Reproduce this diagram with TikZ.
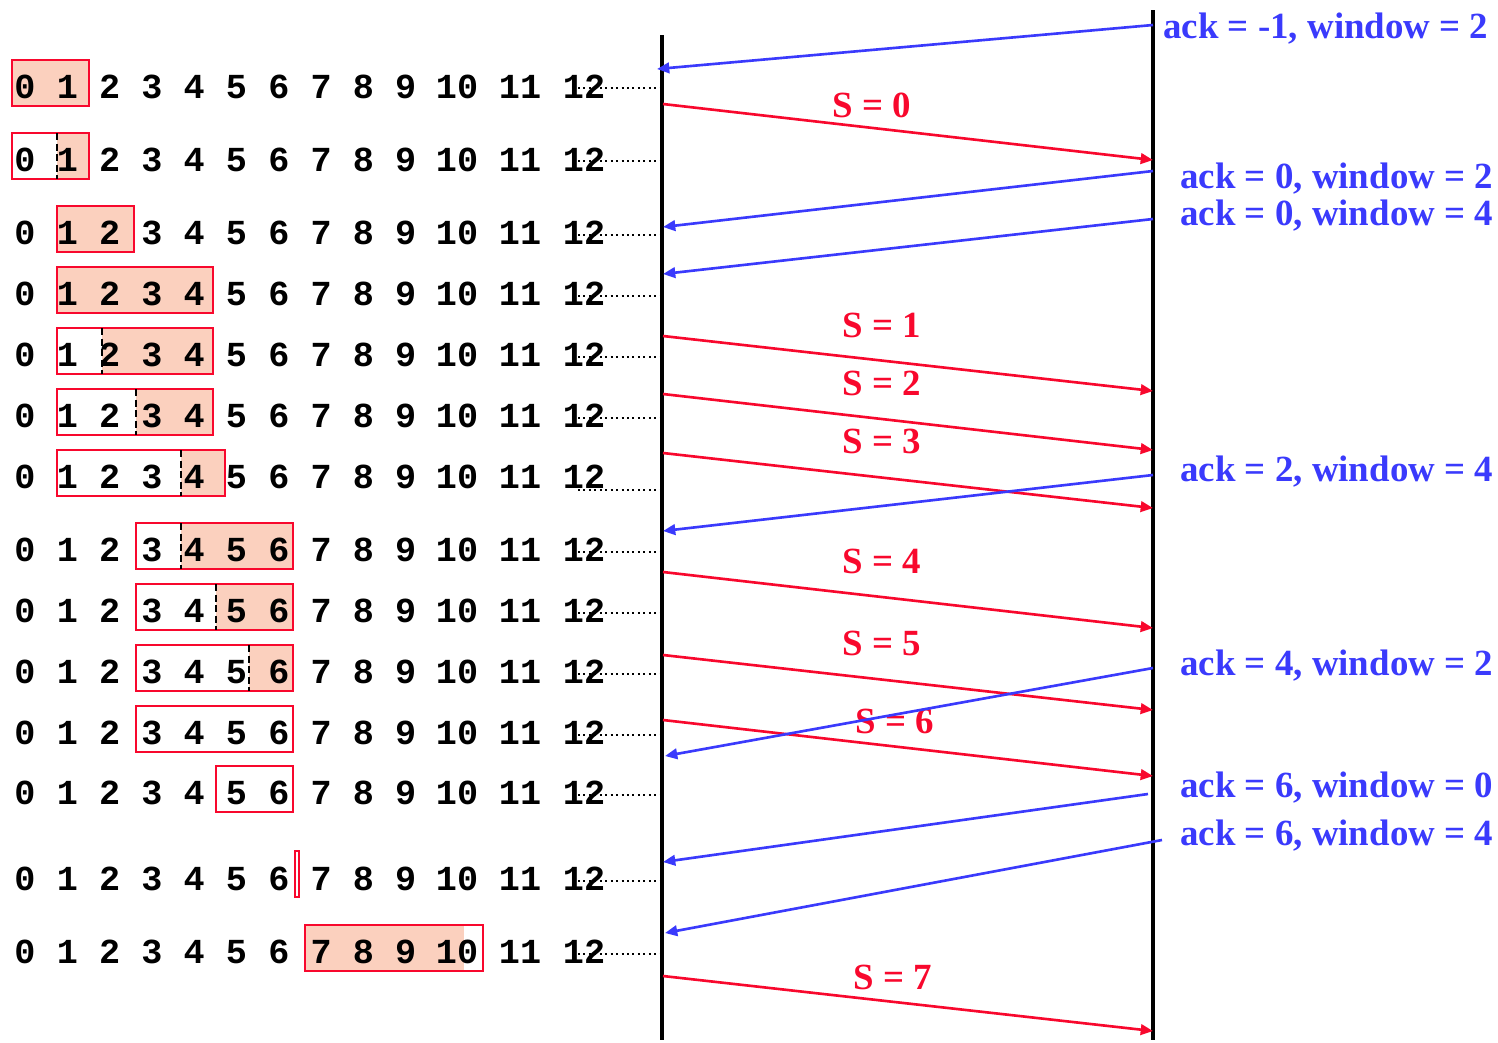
\documentclass[tikz,border=0pt]{standalone}
\usepackage{fontspec}
\setmainfont{Liberation Serif}
\newfontfamily\seqfont{Liberation Mono}
\usepackage{xcolor}
\usepackage{tikz}
\usetikzlibrary{arrows.meta}

\definecolor{segred}{RGB}{248,8,45}
\definecolor{ackblue}{RGB}{58,58,252}
\definecolor{winfill}{RGB}{251,208,190}

\tikzset{
  seqnum/.style={inner sep=0pt, font=\seqfont\bfseries\fontsize{20}{20}\selectfont},
  win/.style={draw=segred, line width=1.5pt},
  sent/.style={fill=winfill},
  divider/.style={dashed, dash pattern=on 4pt off 2pt, line width=1.3pt},
  leader/.style={dotted, line width=1.1pt},
  timeline/.style={line width=1.8pt},
  seg/.style={segred, line width=1.5pt, -{Triangle[length=7pt,width=6pt]}},
  ack/.style={ackblue, line width=1.5pt, -{Triangle[length=7pt,width=6pt]}},
  seglabel/.style={text=segred, anchor=base, inner sep=0pt, font=\bfseries\fontsize{21}{21}\selectfont},
  acklabel/.style={text=ackblue, anchor=base west, inner sep=0pt, font=\bfseries\fontsize{21}{21}\selectfont}
}

\begin{document}
\begin{tikzpicture}[x=0.02cm,y=-0.02cm]
\useasboundingbox (0,0) rectangle (1498,1042);

\fill[sent] (12,60) rectangle (89,106);
\draw[win] (12,60) rectangle (89,106);

\fill[sent] (57,133) rectangle (89,179);
\draw[win] (12,133) rectangle (89,179);
\draw[divider] (57,133)--(57,179);

\fill[sent] (57,206) rectangle (134,252);
\draw[win] (57,206) rectangle (134,252);

\fill[sent] (57,267) rectangle (213,313);
\draw[win] (57,267) rectangle (213,313);

\fill[sent] (102,328) rectangle (213,374);
\draw[win] (57,328) rectangle (213,374);
\draw[divider] (102,328)--(102,374);

\fill[sent] (136,389) rectangle (213,435);
\draw[win] (57,389) rectangle (213,435);
\draw[divider] (136,389)--(136,435);

\fill[sent] (181,450) rectangle (225,496);
\draw[win] (57,450) rectangle (225,496);
\draw[divider] (181,450)--(181,496);

\fill[sent] (181,523) rectangle (293,569);
\draw[win] (136,523) rectangle (293,569);
\draw[divider] (181,523)--(181,569);

\fill[sent] (216,584) rectangle (293,630);
\draw[win] (136,584) rectangle (293,630);
\draw[divider] (216,584)--(216,630);

\fill[sent] (249,645) rectangle (293,691);
\draw[win] (136,645) rectangle (293,691);
\draw[divider] (249,645)--(249,691);

\draw[win] (136,706) rectangle (293,752);

\draw[win] (216,766) rectangle (293,812);

\draw[win, line width=1pt] (295,851) rectangle (299,897);

\fill[sent] (305,925) rectangle (464,971);
\draw[win] (305,925) rectangle (483,971);

\foreach \y/\ly [count=\r] in {87/88,160/161,233/235,294/296,355/357,416/418,477/490,550/552,611/613,672/674,733/735,793/795,879/881,952/954} {
  \foreach \d in {0,...,9}
    \node[seqnum] (n\r-\d) at ({25+42.3*\d},\y) {\d};
  \node[seqnum] (n\r-10) at (457,\y) {10};
  \node[seqnum] (n\r-11) at (520,\y) {11};
  \node[seqnum] (n\r-12) at (584,\y) {12};
  \draw[leader] (578,\ly)--(660,\ly);
}

\draw[timeline] (662,35)--(662,1040);
\draw[timeline] (1153,10)--(1153,1040);

\foreach \n/\ya/\yb/\lx/\ly in {0/104/160/872/117,1/336/391/882/337,2/394/450/882/395,3/453/508/882/453,4/572/628/882/573,5/655/710/882/655,6/720/776/895/733,7/976/1031/893/989} {
  \coordinate (tx\n) at (663,\ya);
  \coordinate (rx\n) at (1153,\yb);
  \draw[seg] (tx\n)--(rx\n);
  \node[seglabel] (sl\n) at (\lx,\ly) {S = \n};
}

\foreach \n/\xa/\ya/\xb/\yb/\lx/\ly/\txt in {1/1153/25/657/69/1163/38/{ack = -1, window = 2},2/1153/171/663/227/1180/188/{ack = 0, window = 2},3/1153/219/663/274/1180/225/{ack = 0, window = 4},4/1153/475/663/531/1180/481/{ack = 2, window = 4},5/1153/668/665/756/1180/675/{ack = 4, window = 2},6/1148/794/663/862/1180/797/{ack = 6, window = 0},7/1162/840/665/933/1180/845/{ack = 6, window = 4}} {
  \coordinate (ar\n) at (\xa,\ya);
  \coordinate (al\n) at (\xb,\yb);
  \draw[ack] (ar\n)--(al\n);
  \node[acklabel] (lab\n) at (\lx,\ly) {\txt};
}

\end{tikzpicture}
\end{document}
